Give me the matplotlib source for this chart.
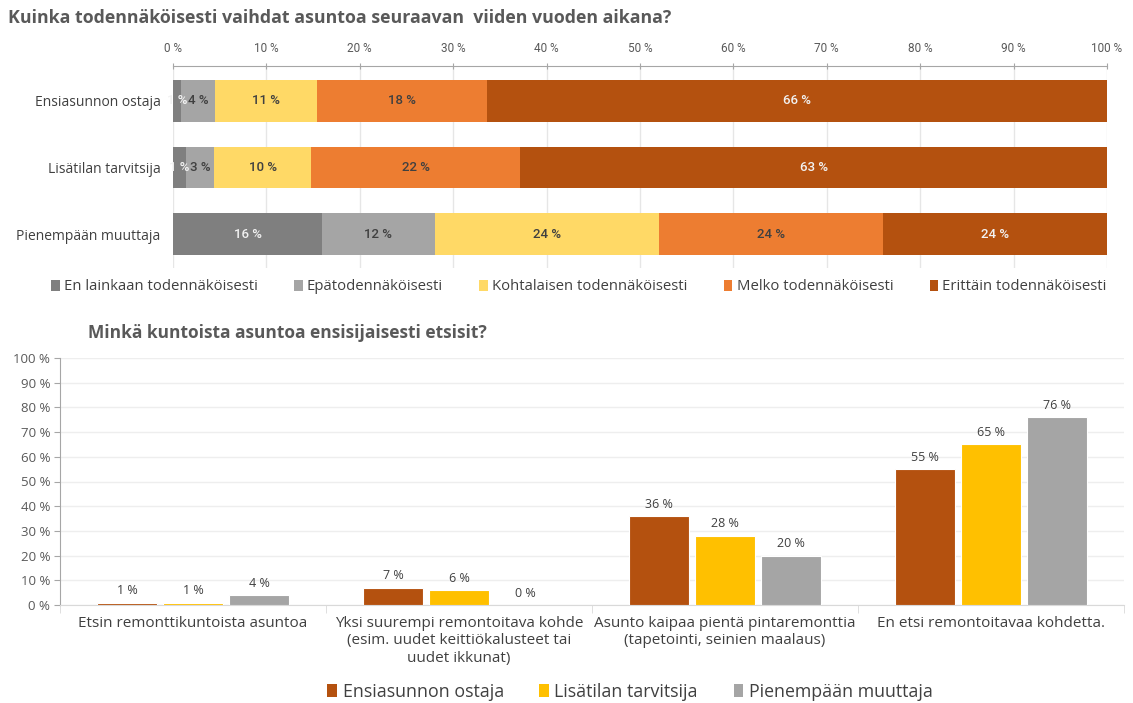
import matplotlib
matplotlib.use("Agg")
import matplotlib.pyplot as plt
from matplotlib.patches import Patch
import numpy as np

# ---------------- data ----------------
top_title = "Kuinka todennäköisesti vaihdat asuntoa seuraavan  viiden vuoden aikana?"
groups = ["Ensiasunnon ostaja", "Lisätilan tarvitsija", "Pienempään muuttaja"]
likert = ["En lainkaan todennäköisesti", "Epätodennäköisesti",
          "Kohtalaisen todennäköisesti", "Melko todennäköisesti",
          "Erittäin todennäköisesti"]
ensi_vals = [0.9, 3.6, 10.9, 18.2, 66.4]
lisa_vals = [1.4, 3.0, 10.4, 22.4, 62.8]
pien_vals = [16, 12, 24, 24, 24]
top_ticks = [0, 10, 20, 30, 40, 50, 60, 70, 80, 90, 100]

bottom_title = "Minkä kuntoista asuntoa ensisijaisesti etsisit?"
conditions = ["Etsin remonttikuntoista asuntoa",
              "Yksi suurempi remontoitava kohde\n(esim. uudet keittiökalusteet tai\nuudet ikkunat)",
              "Asunto kaipaa pientä pintaremonttia\n(tapetointi, seinien maalaus)",
              "En etsi remontoitavaa kohdetta."]
ensi_cond = [1, 7, 36, 55]
lisa_cond = [1, 6, 28, 65]
pien_cond = [4, 0, 20, 76]
bottom_ticks = [0, 10, 20, 30, 40, 50, 60, 70, 80, 90, 100]

# ---------------- style ----------------
likert_colors = ["#7f7f7f", "#a5a5a5", "#ffd966", "#ed7d31", "#b4510f"]
group_colors = ["#b4510f", "#ffc000", "#a5a5a5"]
txt = "#595959"
plt.rcParams["font.family"] = ["Open Sans", "DejaVu Sans"]

fig = plt.figure(figsize=(11.33, 7.03), dpi=100)
W, H = 1133, 703

def ax_rect(x0, y0, x1, y1):
    return [x0 / W, 1 - y1 / H, (x1 - x0) / W, (y1 - y0) / H]

# ---------------- top chart ----------------
ax1 = fig.add_axes(ax_rect(173, 66, 1107, 268))
rows = [ensi_vals, lisa_vals, pien_vals]
y = np.arange(len(groups))
for i, vals in enumerate(rows):
    left = 0
    for j, v in enumerate(vals):
        ax1.barh(i, v, left=left, height=0.63, color=likert_colors[j], zorder=3)
        light = (j == 0) or (j == 4)
        lab_color = "#f2f2f2" if light else "#404040"
        ax1.text(left + v / 2, i, f"{v:.0f} %", ha="center", va="center",
                 fontsize=9.5, color=lab_color, fontweight="medium",
                 family=["Roboto", "DejaVu Sans"], zorder=4)
        left += v
ax1.set_ylim(2.51, -0.526)
ax1.set_xlim(0, 100)
ax1.set_yticks(y)
ax1.set_yticklabels(groups, fontsize=10, color="#404040")
ax1.tick_params(axis="y", length=0, pad=9)
ax1.xaxis.tick_top()
ax1.set_xticks(top_ticks)
ax1.set_xticklabels([f"{t} %" for t in top_ticks], fontsize=8.5, color="#595959",
                    family=["Roboto", "DejaVu Sans"])
ax1.tick_params(axis="x", length=4, direction="inout", color="#a6a6a6", pad=6)
ax1.grid(axis="x", color="#e6e6e6", linewidth=1, zorder=0)
for s in ["right", "bottom", "left"]:
    ax1.spines[s].set_visible(False)
ax1.spines["top"].set_color("#a6a6a6")

fig.text(8 / W, 1 - 18 / H, top_title, fontsize=12.75, fontweight="bold",
         color="#595959", va="center", ha="left")

handles1 = [Patch(facecolor=c, edgecolor="none") for c in likert_colors]
fig.legend(handles1, likert, loc="center", bbox_to_anchor=(579 / W, 1 - 287 / H),
           ncol=5, frameon=False, fontsize=10.7, handlelength=0.55, handleheight=0.7,
           handletextpad=0.3, columnspacing=2.45, labelcolor="#404040")

# ---------------- bottom chart ----------------
ax2 = fig.add_axes(ax_rect(60, 358, 1124, 605))
x = np.arange(len(conditions))
offs = [-0.248, 0, 0.248]
series = [ensi_cond, lisa_cond, pien_cond]
for k, vals in enumerate(series):
    ax2.bar(x + offs[k], vals, width=0.225, color=group_colors[k], zorder=3,
            edgecolor="white", linewidth=0.8)
    for xi, v in zip(x + offs[k], vals):
        ax2.text(xi, v + 2.2, f"{v} %", ha="center", va="bottom", fontsize=9,
                 color="#404040", zorder=4)
ax2.set_xlim(-0.5, len(conditions) - 0.5)
ax2.set_ylim(0, 100)
ax2.set_yticks(bottom_ticks)
ax2.set_yticklabels([f"{t} %" for t in bottom_ticks], fontsize=9.5, color=txt)
ax2.tick_params(axis="y", length=4, color="#a6a6a6", pad=3)
ax2.set_xticks(x)
ax2.set_xticklabels(conditions, fontsize=11, color="#404040", va="top",
                    linespacing=1.2)
ax2.tick_params(axis="x", length=0, pad=8)
ax2.set_xticks(np.arange(-0.5, len(conditions), 1.0), minor=True)
ax2.tick_params(axis="x", which="minor", length=6, color="#d9d9d9")
ax2.grid(axis="y", color="#eeeeee", linewidth=1, zorder=0)
for s in ["right", "top"]:
    ax2.spines[s].set_visible(False)
ax2.spines["left"].set_color("#a6a6a6")
ax2.spines["bottom"].set_color("#d9d9d9")

fig.text(88 / W, 1 - 333 / H, bottom_title, fontsize=12.5, fontweight="bold",
         color="#595959", va="center", ha="left")

handles2 = [Patch(facecolor=c, edgecolor="none") for c in group_colors]
fig.legend(handles2, groups, loc="center", bbox_to_anchor=(630 / W, 1 - 692 / H),
           ncol=3, frameon=False, fontsize=12.8, handlelength=0.55, handleheight=0.75,
           handletextpad=0.3, columnspacing=2.0, labelcolor="#404040")

fig.savefig("out.png", dpi=100, facecolor="white")
